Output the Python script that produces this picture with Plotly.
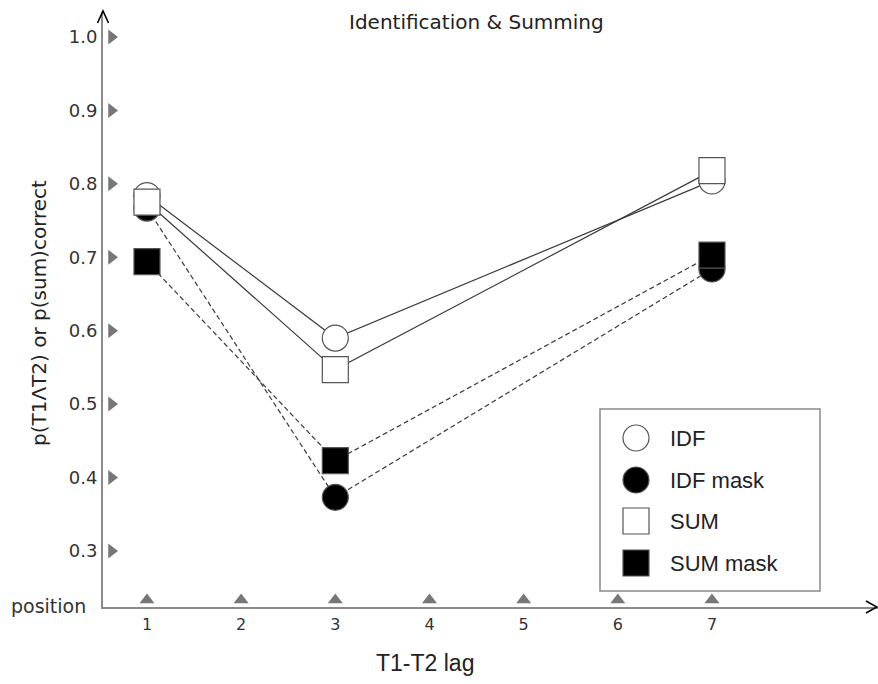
import plotly.graph_objects as go

# ---- data -------------------------------------------------------------
lags = [1, 3, 7]
idf = [0.784, 0.590, 0.804]
idf_mask = [0.767, 0.373, 0.684]
sum_ = [0.775, 0.547, 0.818]
sum_mask = [0.694, 0.423, 0.703]

y_ticks = [0.3, 0.4, 0.5, 0.6, 0.7, 0.8, 0.9, 1.0]
y_tick_labels = ["0.3", "0.4", "0.5", "0.6", "0.7", "0.8", "0.9", "1.0"]
x_ticks = [1, 2, 3, 4, 5, 6, 7]
x_tick_labels = ["1", "2", "3", "4", "5", "6", "7"]

legend_names = ["IDF", "IDF mask", "SUM", "SUM mask"]

# ---- layout constants ---------------------------------------------------
W, H = 878, 684
M_L, M_R, M_T, M_B = 103, 0, 12, 77
X_RANGE = [0.533, 8.763]
Y_RANGE = [0.2237, 1.034]
PW, PH = W - M_L - M_R, H - M_T - M_B

def px_x(px):
    """pixel column -> paper x"""
    return (px - M_L) / PW

def px_y(py):
    """pixel row -> paper y"""
    return (H - M_B - py) / PH

AXIS_GREY = "#8a8a8a"
TRI_GREY = "#777777"
LINE_COL = "#3a3a3a"
EDGE_COL = "#555555"
VERDANA = "DejaVu Sans, Verdana, sans-serif"
ARIAL = "Liberation Sans, Arial, sans-serif"

fig = go.Figure()

# tick triangles along both axes
tri_x = X_RANGE[0] + 8.5 / (PW / (X_RANGE[1] - X_RANGE[0]))
tri_y = Y_RANGE[0] + 7 / (PH / (Y_RANGE[1] - Y_RANGE[0]))
fig.add_trace(go.Scatter(
    x=[tri_x] * len(y_ticks), y=y_ticks, mode="markers",
    marker=dict(symbol="triangle-right", size=13, color=TRI_GREY, line=dict(width=0)),
    hoverinfo="skip", showlegend=False))
fig.add_trace(go.Scatter(
    x=x_ticks, y=[tri_y] * len(x_ticks), mode="markers",
    marker=dict(symbol="triangle-up", size=13, color=TRI_GREY, line=dict(width=0)),
    hoverinfo="skip", showlegend=False))

# connecting lines (drawn first so markers sit on top)
series = [
    ("IDF mask", idf_mask, "circle", "black", "5px,3px"),
    ("IDF", idf, "circle", "white", "solid"),
    ("SUM", sum_, "square", "white", "solid"),
    ("SUM mask", sum_mask, "square", "black", "5px,3px"),
]
for name, vals, sym, fill, dash in series:
    fig.add_trace(go.Scatter(
        x=lags, y=vals, mode="lines", name=name,
        line=dict(color=LINE_COL, width=1.2, dash=dash),
        showlegend=False, hoverinfo="skip"))
for name, vals, sym, fill, dash in series:
    fig.add_trace(go.Scatter(
        x=lags, y=vals, mode="markers", name=name,
        marker=dict(symbol=sym, size=26, color=fill, line=dict(color=EDGE_COL, width=1.2)),
        showlegend=False))

shapes = []
annotations = []

# arrow heads at the ends of the axes
shapes.append(dict(type="path", xref="paper", yref="paper",
                   path=f"M {px_x(97.5)} {px_y(23)} L {px_x(103)} {px_y(11)} L {px_x(108.5)} {px_y(23)}",
                   line=dict(color="black", width=1.6)))
shapes.append(dict(type="path", xref="paper", yref="paper",
                   path=f"M {px_x(866)} {px_y(601)} L {px_x(877)} {px_y(607)} L {px_x(866)} {px_y(613)}",
                   line=dict(color="black", width=1.6)))

# legend box
shapes.append(dict(type="rect", xref="paper", yref="paper",
                   x0=px_x(600), x1=px_x(820), y0=px_y(591), y1=px_y(409),
                   line=dict(color=AXIS_GREY, width=1.5), fillcolor="white", layer="below"))
legend_rows = [438, 480, 521, 563]
legend_style = {"IDF": ("circle", "white"), "IDF mask": ("circle", "black"),
                "SUM": ("rect", "white"), "SUM mask": ("rect", "black")}
for name, row in zip(legend_names, legend_rows):
    kind, fill = legend_style[name]
    shapes.append(dict(type=kind, xref="paper", yref="paper",
                       xsizemode="pixel", ysizemode="pixel",
                       xanchor=px_x(636), yanchor=px_y(row),
                       x0=-13, x1=13, y0=-13, y1=13,
                       fillcolor=fill, line=dict(color=EDGE_COL, width=1.2)))
    annotations.append(dict(text=name, xref="paper", yref="paper",
                            x=px_x(668), y=px_y(row), xanchor="left", yanchor="middle",
                            showarrow=False, font=dict(family=ARIAL, size=22, color="#222")))

# titles and labels
annotations.append(dict(text="Identification &amp; Summing", xref="paper", yref="paper",
                        x=px_x(476), y=px_y(22), xanchor="center", yanchor="middle",
                        showarrow=False, font=dict(family=VERDANA, size=20, color="#222")))
annotations.append(dict(text="p(T1ΛT2) or p(sum)correct", xref="paper", yref="paper",
                        x=px_x(39), y=px_y(313), xanchor="center", yanchor="middle",
                        textangle=-90, showarrow=False,
                        font=dict(family=VERDANA, size=20, color="#222")))
annotations.append(dict(text="T1-T2 lag", xref="paper", yref="paper",
                        x=px_x(425), y=px_y(663), xanchor="center", yanchor="middle",
                        showarrow=False, font=dict(family=ARIAL, size=23, color="#222")))
annotations.append(dict(text="position", xref="paper", yref="paper",
                        x=px_x(88), y=px_y(606), xanchor="right", yanchor="middle",
                        showarrow=False, font=dict(family=VERDANA, size=19, color="#333")))

fig.update_layout(
    width=W, height=H,
    margin=dict(l=M_L, r=M_R, t=M_T, b=M_B, pad=0),
    plot_bgcolor="white", paper_bgcolor="white",
    shapes=shapes, annotations=annotations, showlegend=False,
    xaxis=dict(range=X_RANGE, tickvals=x_ticks, ticktext=x_tick_labels,
               showgrid=False, zeroline=False, showline=True,
               linecolor=AXIS_GREY, linewidth=2, ticks="", ticklabelstandoff=2,
               tickfont=dict(family=VERDANA, size=16, color="#333")),
    yaxis=dict(range=Y_RANGE, tickvals=y_ticks, ticktext=y_tick_labels,
               showgrid=False, zeroline=False, showline=True,
               linecolor=AXIS_GREY, linewidth=2, ticks="", ticklabelstandoff=0,
               tickfont=dict(family=VERDANA, size=18, color="#333")),
)

fig.write_html("out.html")
